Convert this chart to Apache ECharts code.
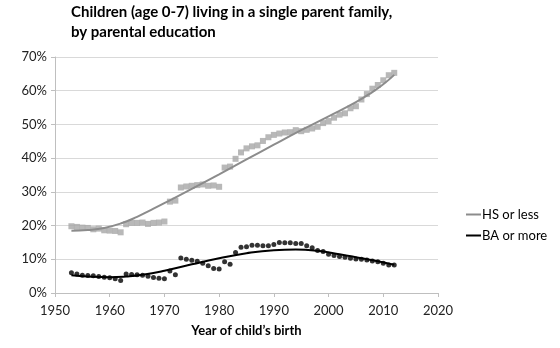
<!DOCTYPE html>
<html>
<head>
<meta charset="utf-8">
<script src="https://cdn.jsdelivr.net/npm/echarts@6/dist/echarts.min.js"></script>
<style>
  html, body { margin: 0; padding: 0; background: #fff; }
  #chart { width: 560px; height: 348px; }
</style>
</head>
<body>
<div id="chart"></div>
<script>
// Share of children (age 0-7) in single parent families, % by birth year
const years = [];
for (let y = 1953; y <= 2012; y++) years.push(y);

const hsOrLess = [
  19.8, 19.6, 19.4, 19.3, 18.9, 19.1, 18.6, 18.5, 18.4, 18.0,
  20.4, 20.8, 20.8, 20.9, 20.5, 20.8, 20.9, 21.2, 27.1, 27.4,
  31.3, 31.6, 31.8, 32.0, 32.2, 31.8, 31.9, 31.5, 37.2, 37.5,
  39.8, 41.7, 42.9, 43.5, 43.8, 45.1, 46.2, 46.9, 47.3, 47.6,
  47.7, 48.3, 48.0, 48.4, 48.8, 49.3, 50.4, 51.0, 52.0, 52.9,
  53.3, 54.8, 55.4, 57.4, 59.0, 60.6, 61.7, 63.1, 64.6, 65.3
];

const baOrMore = [
  6.0, 5.6, 5.3, 5.2, 5.1, 4.9, 4.7, 4.5, 4.2, 3.7,
  5.6, 5.5, 5.4, 5.3, 5.0, 4.6, 4.4, 4.2, 6.5, 5.4,
  10.4, 10.0, 9.7, 9.4, 8.8, 8.1, 7.3, 7.1, 9.3, 8.5,
  12.0, 13.6, 13.7, 14.2, 14.2, 14.0, 14.0, 14.4, 15.0, 14.9,
  14.9, 14.7, 14.7, 14.0, 13.4, 12.6, 12.3, 11.5, 11.1, 10.8,
  10.6, 10.3, 10.1, 10.0, 9.8, 9.5, 9.3, 8.8, 8.3, 8.3
];

// Fitted trend curves (year, %)
const hsTrendYears = [1953, 1956, 1959, 1962, 1965, 1968, 1971, 1975, 1980, 1985, 1990, 1995, 2000, 2005, 2008, 2010, 2012];
const hsTrend = [18.5, 18.7, 19.3, 20.6, 22.6, 25.0, 27.5, 30.9, 35.2, 39.6, 44.0, 48.3, 52.4, 56.6, 59.6, 61.9, 64.7];

const baTrendYears = [1953, 1956, 1960, 1963, 1966, 1970, 1975, 1980, 1985, 1990, 1994, 1998, 2002, 2006, 2009, 2012];
const baTrend = [5.3, 4.9, 4.7, 4.9, 5.4, 6.6, 8.5, 10.3, 11.8, 12.7, 12.9, 12.5, 11.5, 10.3, 9.4, 8.4];

const titleLines = ['Children (age 0-7) living in a single parent family,', 'by parental education'];
const xAxisName = 'Year of child\u2019s birth';
const legendNames = ['HS or less', 'BA or more'];

const zip = (xs, ys) => xs.map((x, i) => [x, ys[i]]);

const FONT = 'Lato, "Liberation Sans", sans-serif';
const chart = echarts.init(document.getElementById('chart'), null, { renderer: 'canvas' });

chart.setOption({
  animation: false,
  backgroundColor: '#ffffff',
  title: {
    text: titleLines.join('\n'),
    left: 66,
    top: -3,
    textStyle: { fontFamily: FONT, fontWeight: 'bold', fontSize: 15, color: '#000', lineHeight: 20 }
  },
  legend: {
    data: legendNames,
    orient: 'vertical',
    left: 461,
    top: 203,
    icon: 'rect',
    itemWidth: 15,
    itemHeight: 2,
    itemGap: 8,
    textStyle: { fontFamily: FONT, fontSize: 13, color: '#000', padding: [0, 0, 0, -4] }
  },
  grid: { left: 55, right: 122, top: 57, bottom: 55, containLabel: false },
  xAxis: {
    type: 'value',
    min: 1950,
    max: 2020,
    interval: 10,
    name: xAxisName,
    nameLocation: 'middle',
    nameGap: 31,
    nameTextStyle: { fontFamily: FONT, fontWeight: 'bold', fontSize: 13, color: '#000' },
    axisLine: { show: true, lineStyle: { color: '#bfbfbf', width: 1 } },
    axisTick: { show: true, length: 4, lineStyle: { color: '#bfbfbf' } },
    axisLabel: { fontFamily: FONT, fontSize: 13, color: '#222', margin: 11, formatter: v => String(v) },
    splitLine: { show: false }
  },
  yAxis: {
    type: 'value',
    min: 0,
    max: 70,
    interval: 10,
    axisLine: { show: true, lineStyle: { color: '#bfbfbf', width: 1 } },
    axisTick: { show: true, length: 4, lineStyle: { color: '#bfbfbf' } },
    axisLabel: { fontFamily: FONT, fontSize: 13, color: '#222', margin: 8, formatter: '{value}%' },
    splitLine: { show: true, lineStyle: { color: '#d9d9d9', width: 1 } }
  },
  series: [
    {
      name: 'HS or less points',
      type: 'scatter',
      symbol: 'rect',
      symbolSize: 6,
      itemStyle: { color: '#a6a6a6' },
      data: zip(years, hsOrLess),
      z: 2
    },
    {
      name: 'BA or more points',
      type: 'scatter',
      symbol: 'circle',
      symbolSize: 5,
      itemStyle: { color: '#000' },
      data: zip(years, baOrMore),
      z: 2
    },
    {
      name: legendNames[0],
      type: 'line',
      smooth: true,
      symbol: 'none',
      lineStyle: { color: '#8c8c8c', width: 2 },
      itemStyle: { color: '#8c8c8c' },
      data: zip(hsTrendYears, hsTrend),
      z: 3
    },
    {
      name: legendNames[1],
      type: 'line',
      smooth: true,
      symbol: 'none',
      lineStyle: { color: '#000', width: 2 },
      itemStyle: { color: '#000' },
      data: zip(baTrendYears, baTrend),
      z: 3
    }
  ]
});
</script>
</body>
</html>
